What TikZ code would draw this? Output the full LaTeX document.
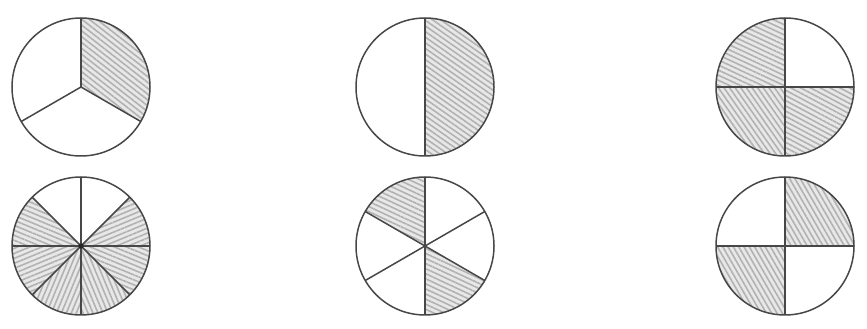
\documentclass[tikz,border=0pt]{standalone}
\usetikzlibrary{patterns.meta}
\newcommand\pieR{69}
\newcommand\hatchColor{black!30}
\newcommand\hatchBack{black!9}
\tikzset{
    pieline/.style={draw=black!72, line width=1.5pt},
}
% one hatched sector of the current pie, centred at (0,0)
\newcommand{\hatchSector}[3]{
    \fill[\hatchBack] (0,0) -- (#1:\pieR) arc[start angle=#1, end angle=#2, radius=\pieR] -- cycle;
    \path[pattern={Lines[angle=#3, distance=4.6pt, line width=1.6pt]}, pattern color=\hatchColor]
        (0,0) -- (#1:\pieR) arc[start angle=#1, end angle=#2, radius=\pieR] -- cycle;
}
% outline and spokes of the current pie
\newcommand{\pieFrame}[1]{
    \foreach \a in {#1} {
        \draw[pieline] (0,0) -- (\a:\pieR);
    }
    \draw[pieline] (0,0) circle[radius=\pieR];
}

\begin{document}
\begin{tikzpicture}[x=1pt, y=1pt]
    \useasboundingbox (0,0) rectangle (867,329);

    % top row
    \begin{scope}[shift={(81,242)}]
        \hatchSector{-30}{90}{-38}
        \pieFrame{90,-30,210}
    \end{scope}

    \begin{scope}[shift={(425,242)}]
        \hatchSector{-90}{90}{-35}
        \pieFrame{90,-90}
    \end{scope}

    \begin{scope}[shift={(785,242)}]
        \hatchSector{90}{180}{-25}
        \hatchSector{180}{270}{-55}
        \hatchSector{270}{360}{-28}
        \pieFrame{0,90,180,270}
    \end{scope}

    % bottom row
    \begin{scope}[shift={(81,83)}]
        \foreach \s in {0,135,180,225,270,315} {
            \hatchSector{\s}{\s+45}{\s+22.5}
        }
        \pieFrame{0,45,...,315}
        \fill[black!85] (0,0) circle[radius=2.6];
    \end{scope}

    \begin{scope}[shift={(425,83)}]
        \hatchSector{90}{150}{-25}
        \hatchSector{270}{330}{-25}
        \pieFrame{90,30,-30,-90,210,150}
    \end{scope}

    \begin{scope}[shift={(785,83)}]
        \hatchSector{0}{90}{-60}
        \hatchSector{180}{270}{-60}
        \pieFrame{0,90,180,270}
    \end{scope}

\end{tikzpicture}
\end{document}
